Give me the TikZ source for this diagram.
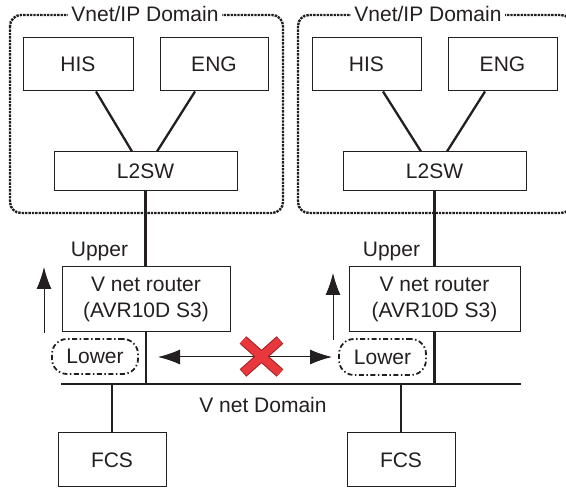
\documentclass[tikz,border=0pt]{standalone}
\usepackage{fontspec}
\setmainfont{Liberation Sans}
\usetikzlibrary{arrows.meta}
\definecolor{ink}{HTML}{231F20}
\definecolor{xred}{HTML}{E8383D}
\definecolor{xdark}{HTML}{A01E22}
\tikzset{
  unitbox/.style={draw=ink, line width=1pt, inner sep=0pt, align=center, text=ink},
  zonebox/.style={draw=ink, line width=2.4pt, densely dotted, rounded corners=11pt},
  zonetitle/.style={fill=white, inner sep=3pt, text=ink},
  portbox/.style={draw=ink, line width=1.8pt, dash pattern=on 5pt off 2.5pt on 1.5pt off 2.5pt, rounded corners=15pt, inner sep=0pt, text=ink},
  wire/.style={draw=ink, line width=2.3pt},
  flow/.style={draw=ink, line width=1pt, -{Latex[length=22pt, width=15pt]}}
}
\begin{document}
\begin{tikzpicture}[x=1pt, y=-1pt, font=\fontsize{21}{26}\selectfont]
        \clip (0,0) rectangle (566,489) ;

        \draw [zonebox] (10,15) rectangle (283,213) ;
        \draw [zonebox] (298,15) rectangle (572,213) ;
        \node [zonetitle] (ip1) at (145,14) {Vnet/IP Domain} ;
        \node [zonetitle] (ip2) at (428,14) {Vnet/IP Domain} ;

        \node [unitbox, minimum width=110pt, minimum height=53pt] (his1) at (78,64.5) {HIS} ;
        \node [unitbox, minimum width=108pt, minimum height=53pt] (eng1) at (214,64.5) {ENG} ;
        \node [unitbox, minimum width=183pt, minimum height=39pt] (sw1) at (145.5,171.5) {L2SW} ;
        \node [unitbox, minimum width=109pt, minimum height=53pt] (his2) at (366.5,64.5) {HIS} ;
        \node [unitbox, minimum width=109pt, minimum height=53pt] (eng2) at (502.5,64.5) {ENG} ;
        \node [unitbox, minimum width=183pt, minimum height=39pt] (sw2) at (434.5,171.5) {L2SW} ;

        \draw [wire] ([xshift=18pt]his1.south) -- ([xshift=-13.5pt]sw1.north) ;
        \draw [wire] ([xshift=-19pt]eng1.south) -- ([xshift=11.5pt]sw1.north) ;
        \draw [wire] ([xshift=16.5pt]his2.south) -- ([xshift=-13.5pt]sw2.north) ;
        \draw [wire] ([xshift=-17.5pt]eng2.south) -- ([xshift=12.5pt]sw2.north) ;

        \node [unitbox, minimum width=168pt, minimum height=65pt] (rtr1) at (146,299.5) {V net router\\(AVR10D S3)} ;
        \node [unitbox, minimum width=171pt, minimum height=65pt] (rtr2) at (434.5,299.5) {V net router\\(AVR10D S3)} ;
        \node [text=ink] (up1) at (99.5,251) {Upper} ;
        \node [text=ink] (up2) at (391.5,251) {Upper} ;

        \draw [wire] (sw1.south) -- (sw1.south |- rtr1.north) ;
        \draw [wire] (sw2.south) -- (sw2.south |- rtr2.north) ;

        \coordinate (busL) at (61,384) ;
        \coordinate (busR) at (521,384) ;
        \draw [wire] (busL) -- (busR) ;
        \node [text=ink] (vnet) at (263,405) {V net Domain} ;

        \draw [wire] (rtr1.south) -- (rtr1.south |- busL) ;
        \draw [wire] (rtr2.south) -- (rtr2.south |- busL) ;

        \node [unitbox, minimum width=108pt, minimum height=54pt] (fcs1) at (112,460) {FCS} ;
        \node [unitbox, minimum width=108pt, minimum height=54pt] (fcs2) at (401,460) {FCS} ;
        \draw [wire] (fcs1.north) -- (fcs1.north |- busL) ;
        \draw [wire] (fcs2.north) -- (fcs2.north |- busL) ;

        \node [portbox, minimum width=86pt, minimum height=35pt] (low1) at (95,356.5) {Lower} ;
        \node [portbox, minimum width=87pt, minimum height=36pt] (low2) at (382.5,357) {Lower} ;

        \coordinate (up1a) at (44,333) ;
        \coordinate (up1b) at (44,267) ;
        \coordinate (up2a) at (333,340) ;
        \coordinate (up2b) at (333,273) ;
        \draw [flow] (up1a) -- (up1b) ;
        \draw [flow] (up2a) -- (up2b) ;

        \coordinate (tipL) at (158,357) ;
        \coordinate (tipR) at (332,357) ;
        \draw [flow, {Latex[length=22pt, width=15pt]}-{Latex[length=22pt, width=15pt]}] (tipL) -- (tipR) ;

        \coordinate (xa) at (243,340) ;
        \coordinate (xb) at (280,373) ;
        \coordinate (xc) at (280,340) ;
        \coordinate (xd) at (243,373) ;
        \draw [xdark, line width=10pt] (xa) -- (xb) (xc) -- (xd) ;
        \draw [xred, line width=8pt, shorten <=0.7pt, shorten >=0.7pt] (xa) -- (xb) (xc) -- (xd) ;
      \end{tikzpicture}
\end{document}
